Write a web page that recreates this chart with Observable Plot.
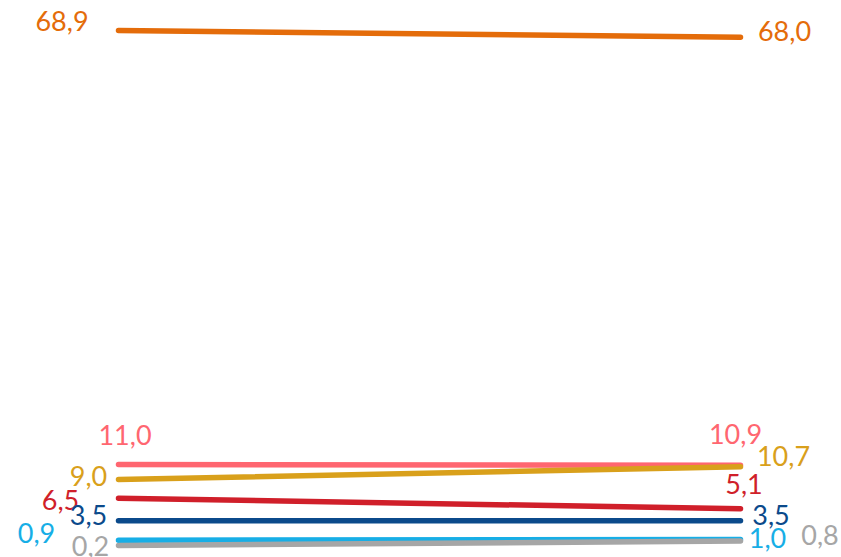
<!DOCTYPE html>
<html>
<head>
<meta charset="utf-8">
<script src="https://cdn.jsdelivr.net/npm/d3@7"></script>
<script src="https://cdn.jsdelivr.net/npm/@observablehq/plot@0.6"></script>
<style>
  html, body { margin: 0; padding: 0; background: #fff; }
  #chart svg { display: block; }
</style>
</head>
<body>
<div id="chart"></div>
<script>
// Data
const periods = ["start", "end"];
const series = ["s1", "s2", "s3", "s4", "s5", "s6", "s7"];
const startValues = [68.9, 11.0, 9.0, 6.5, 3.5, 0.9, 0.2];
const endValues   = [68.0, 10.9, 10.7, 5.1, 3.5, 1.0, 0.8];
const colors = ["#E46C0A", "#FF6670", "#D9A01B", "#D01F2A", "#0B4A8B", "#17AEE6", "#A6A6A6"];

// Label placement offsets (layout, px)
const startLabelDx = [-56.5, 6.5, -30, -58, -30, -82, -28];
const startLabelDy = [-8.5, -28, -2.5, 3, -4, -6, 2];
const endLabelDx = [44, -5, 43, 3.5, 30.5, 27, 79.5];
const endLabelDy = [-5, -30, -9, -23, -4, 0, -4.5];

const fmt = v => v.toFixed(1).replace(".", ",");

const rows = [];
series.forEach((s, i) => {
  rows.push({series: s, period: periods[0], value: startValues[i], i});
  rows.push({series: s, period: periods[1], value: endValues[i], i});
});

const labelMarks = [];
series.forEach((s, i) => {
  labelMarks.push(Plot.text([{period: periods[0], value: startValues[i]}], {
    x: "period", y: "value", text: d => fmt(d.value),
    dx: startLabelDx[i], dy: startLabelDy[i], fill: colors[i],
    textAnchor: "middle", lineAnchor: "middle"
  }));
  labelMarks.push(Plot.text([{period: periods[1], value: endValues[i]}], {
    x: "period", y: "value", text: d => fmt(d.value),
    dx: endLabelDx[i], dy: endLabelDy[i], fill: colors[i],
    textAnchor: "middle", lineAnchor: "middle"
  }));
});

const chart = Plot.plot({
  width: 841,
  height: 557,
  marginTop: 0, marginBottom: 0, marginLeft: 0, marginRight: 0,
  style: {fontFamily: "Lato, 'Open Sans', sans-serif", fontSize: "27px", background: "#fff"},
  x: {type: "point", domain: periods, range: [117.5, 739.5], padding: 0, axis: null},
  y: {type: "linear", domain: [0, 68.9], range: [546.5, 30], axis: null},
  color: {domain: series, range: colors},
  marks: [
    Plot.line(rows, {x: "period", y: "value", z: "series", stroke: "series", strokeWidth: 5.5, strokeLinecap: "round"}),
    ...labelMarks
  ]
});
document.getElementById("chart").appendChild(chart);
</script>
</body>
</html>
